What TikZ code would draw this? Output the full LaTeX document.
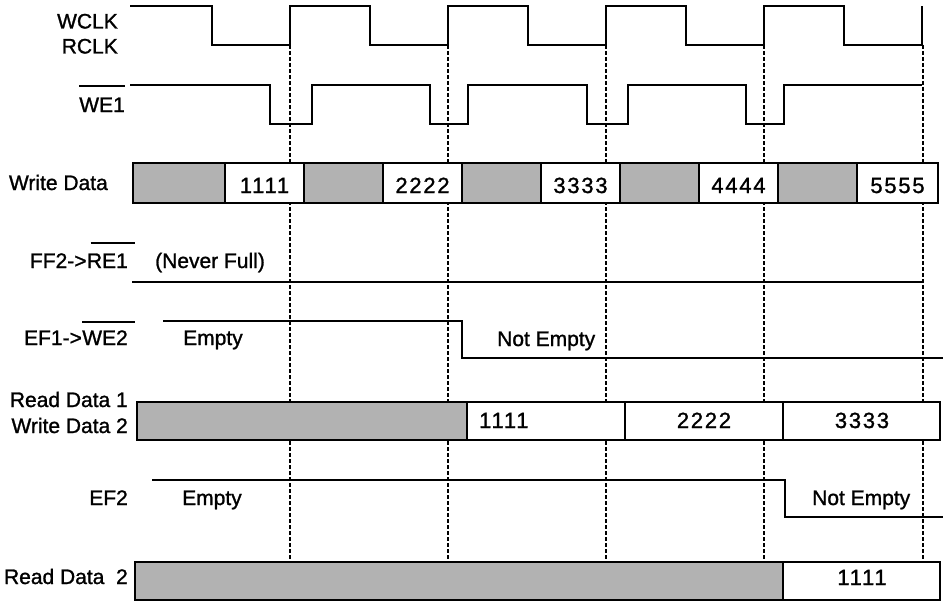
\documentclass[tikz,border=0pt]{standalone}
\usepackage{fontspec}
\setmainfont[FakeBold=1.2]{Liberation Sans}
\newfontfamily\digitfont[LetterSpace=8,FakeBold=1.2]{Liberation Sans}
\begin{document}
\begin{tikzpicture}[x=1pt,y=-1pt,
  wave/.style={line width=2.6pt},
  busline/.style={line width=2.8pt},
  shadefill/.style={fill=black!30},
  gridline/.style={line width=2pt, dash pattern=on 4pt off 2pt},
  ovl/.style={line width=1.6pt},
  lbl/.style={font=\fontsize{21}{24}\selectfont, inner sep=0pt},
  num/.style={font=\fontsize{22}{24}\selectfont\digitfont, inner sep=0pt}]
\useasboundingbox (0,0) rectangle (943,602);

% dashed timing grid
\foreach \t/\n in {290/g1,448/g2,606/g3,764/g4,923/g5}{
  \coordinate (\n t) at (\t,45);
  \coordinate (\n b) at (\t,562);
  \draw[gridline] (\n t) -- (\n b);
}

% WCLK / RCLK
\node[lbl, anchor=base east] (wclk) at (118,28.5) {WCLK};
\node[lbl, anchor=base east] (rclk) at (118,53.5) {RCLK};
\draw[wave] (130,6) -- (212,6) -- (212,45) -- (290,45) -- (290,6) -- (370,6) -- (370,45)
  -- (448,45) -- (448,6) -- (528,6) -- (528,45) -- (606,45) -- (606,6) -- (686,6)
  -- (686,45) -- (764,45) -- (764,6) -- (844,6) -- (844,45) -- (922,45) -- (922,6);

% WE1
\node[lbl, anchor=base east] (we1) at (125,112) {WE1};
\coordinate (we1o) at (0,86);
\draw[ovl] (we1.west |- we1o) -- (we1.east |- we1o);
\draw[wave] (130,85) -- (270,85) -- (270,124) -- (312,124) -- (312,85) -- (430,85)
  -- (430,124) -- (468,124) -- (468,85) -- (587,85) -- (587,124) -- (628,124)
  -- (628,85) -- (746,85) -- (746,124) -- (784,124) -- (784,85) -- (922,85);

% Write Data bus
\node[lbl, anchor=base east] (wd) at (108,190) {Write Data};
\fill[white] (133,163) rectangle (938,203);
\foreach \a/\b in {133/225,304/383,462/541,620/699,778/857}{
  \fill[shadefill] (\a,163) rectangle (\b,203);
  \draw[busline] (\b,163) -- (\b,203);
  \draw[busline] (\a,163) -- (\a,203);
}
\draw[busline] (133,163) rectangle (938,203);
\node[num, anchor=base] (w1) at (264.5,193) {1111};
\node[num, anchor=base] (w2) at (422.5,193) {2222};
\node[num, anchor=base] (w3) at (580.5,193) {3333};
\node[num, anchor=base] (w4) at (738.5,193) {4444};
\node[num, anchor=base] (w5) at (897.5,193) {5555};

% FF2 -> RE1
\node[lbl, anchor=base east] (ff2b) at (128,268) {RE1};
\node[lbl, anchor=base east] (ff2a) at (ff2b.base west) {FF2->};
\coordinate (ff2o) at (0,243);
\draw[ovl] ([xshift=4pt]ff2b.west |- ff2o) -- ([xshift=7pt]ff2b.east |- ff2o);
\node[lbl, anchor=base west] (nf) at (155,268) {(Never Full)};
\draw[wave] (132,282) -- (923,282);

% EF1 -> WE2
\node[lbl, anchor=base east] (ef1b) at (128,345) {WE2};
\node[lbl, anchor=base east] (ef1a) at (ef1b.base west) {EF1->};
\coordinate (ef1o) at (0,322);
\draw[ovl] ([xshift=0pt]ef1b.west |- ef1o) -- ([xshift=7pt]ef1b.east |- ef1o);
\node[lbl, anchor=base west] (e1empty) at (183,345) {Empty};
\node[lbl, anchor=base west] (e1ne) at (497,346) {Not Empty};
\draw[wave] (163,321) -- (462,321) -- (462,358) -- (943,358);

% Read Data 1 / Write Data 2 bus
\node[lbl, anchor=base east] (rd1) at (128,407) {Read Data 1};
\node[lbl, anchor=base east] (wd2) at (128,433) {Write Data 2};
\fill[white] (137,402) rectangle (940,440);
\fill[shadefill] (137,402) rectangle (467,440);
\foreach \s in {467,625,783}{\draw[busline] (\s,402) -- (\s,440);}
\draw[busline] (137,402) rectangle (940,440);
\node[num, anchor=base west] (r11) at (479,428) {1111};
\node[num, anchor=base] (r12) at (704,428) {2222};
\node[num, anchor=base] (r13) at (862,428) {3333};

% EF2
\node[lbl, anchor=base east] (ef2) at (128,505) {EF2};
\node[lbl, anchor=base west] (e2empty) at (182,505) {Empty};
\node[lbl, anchor=base west] (e2ne) at (812,505) {Not Empty};
\draw[wave] (152,480) -- (785,480) -- (785,517) -- (943,517);

% Read Data 2 bus
\node[lbl, anchor=base east] (rd2) at (128,584) {Read Data\ \ 2};
\fill[white] (135,562) rectangle (940,600);
\fill[shadefill] (135,562) rectangle (783,600);
\draw[busline] (783,562) -- (783,600);
\draw[busline] (135,562) rectangle (940,600);
\node[num, anchor=base] (r21) at (862,585) {1111};
\end{tikzpicture}
\end{document}
